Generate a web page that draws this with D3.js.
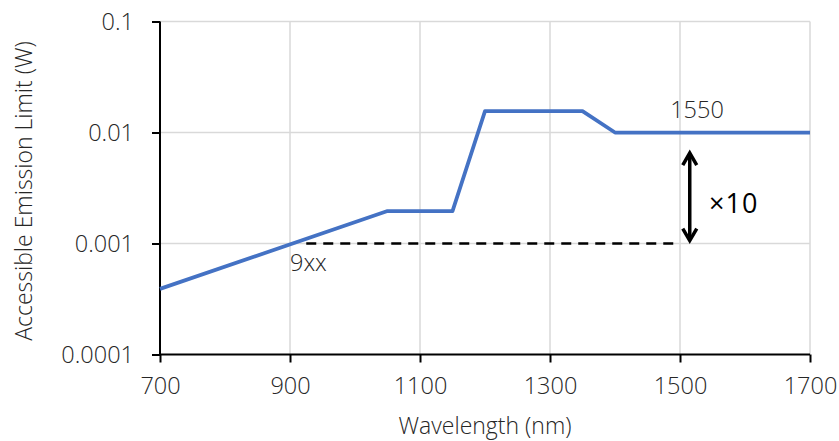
<!DOCTYPE html>
<html><head><meta charset="utf-8">
<script src="https://cdn.jsdelivr.net/npm/d3@7"></script>
<style>
body{margin:0;background:#fff;}
text{font-family:"Open Sans",sans-serif;fill:#262626;font-weight:300;}
</style></head>
<body><svg id="c" width="839" height="441"></svg>
<script>
const wavelengths = [700, 1050, 1150, 1200, 1350, 1400, 1700];
const aelValues   = [0.00039, 0.00196, 0.00196, 0.0156, 0.0156, 0.01, 0.01];
const xTicks = [700, 900, 1100, 1300, 1500, 1700];
const yTicks = [0.0001, 0.001, 0.01, 0.1];
const yTickLabels = ["0.0001", "0.001", "0.01", "0.1"];
const refLine = {from: 925, to: 1490, value: 0.001};
const arrow = {x: 1515, top: 0.0068, bottom: 0.00102};

const svg = d3.select("#c");
const x = d3.scaleLinear().domain([700, 1700]).range([160, 810]);
const y = d3.scaleLog().domain([0.0001, 0.1]).range([354.5, 21.5]);

// grid
svg.append("g").selectAll("line.v").data(xTicks.slice(1)).join("line")
  .attr("x1", d => x(d)).attr("x2", d => x(d)).attr("y1", y(0.1)).attr("y2", y(0.0001))
  .attr("stroke", "#d9d9d9").attr("stroke-width", 1.5);
svg.append("g").selectAll("line.h").data(yTicks.slice(1)).join("line")
  .attr("x1", x(700)).attr("x2", x(1700)).attr("y1", d => y(d)).attr("y2", d => y(d))
  .attr("stroke", "#d9d9d9").attr("stroke-width", 1.5);

// axes
const xAxis = d3.axisBottom(x).tickValues(xTicks).tickSize(8).tickPadding(15).tickFormat(d3.format("d"));
const gx = svg.append("g").attr("transform", `translate(0,${y(0.0001)})`).call(xAxis);
gx.select(".domain").attr("stroke", "#000").attr("stroke-width", 2).attr("d", `M${x(700)},0H${x(1700)}`);
gx.selectAll(".tick line").attr("stroke", "#000").attr("stroke-width", 2);
gx.selectAll(".tick text").attr("font-size", 23.5).attr("font-family", "Open Sans").attr("font-weight", 300).attr("fill", "#262626");

const yAxis = d3.axisLeft(y).tickValues(yTicks).tickSize(8).tickPadding(18).tickFormat((d, i) => yTickLabels[i]);
const gy = svg.append("g").attr("transform", `translate(${x(700)},0)`).call(yAxis);
gy.select(".domain").attr("stroke", "#000").attr("stroke-width", 2).attr("d", `M0,${y(0.1)}V${y(0.0001)}`);
gy.selectAll(".tick line").attr("stroke", "#000").attr("stroke-width", 2);
gy.selectAll(".tick text").attr("font-size", 23.5).attr("font-family", "Open Sans").attr("font-weight", 300).attr("fill", "#262626");

// dashed reference
svg.append("line").attr("x1", x(refLine.from)).attr("x2", x(refLine.to))
  .attr("y1", y(refLine.value)).attr("y2", y(refLine.value))
  .attr("stroke", "#000").attr("stroke-width", 2.5).attr("stroke-dasharray", "10,7");

// data line
const data = wavelengths.map((w, i) => [w, aelValues[i]]);
svg.append("path").datum(data)
  .attr("d", d3.line().x(d => x(d[0])).y(d => y(d[1])))
  .attr("fill", "none").attr("stroke", "#4472C4").attr("stroke-width", 3.75).attr("stroke-linejoin", "round");

// arrow
const ax = x(arrow.x), at = y(arrow.top), ab = y(arrow.bottom);
svg.append("line").attr("x1", ax).attr("x2", ax).attr("y1", at + 3).attr("y2", ab - 3)
  .attr("stroke", "#000").attr("stroke-width", 3.5);
svg.append("path").attr("d", `M${ax-7},${at+14}L${ax},${at+2}L${ax+7},${at+14}`)
  .attr("fill", "none").attr("stroke", "#000").attr("stroke-width", 3.5).attr("stroke-linejoin", "miter");
svg.append("path").attr("d", `M${ax-7},${ab-14}L${ax},${ab-2}L${ax+7},${ab-14}`)
  .attr("fill", "none").attr("stroke", "#000").attr("stroke-width", 3.5).attr("stroke-linejoin", "miter");

// labels
svg.append("text").attr("x", 709).attr("y", 213).attr("font-size", 27).attr("letter-spacing", 1).style("fill", "#000").style("font-weight", 400).text("×10");
svg.append("text").attr("x", 697).attr("y", 118).attr("text-anchor", "middle").attr("font-size", 23.5).text("1550");
svg.append("text").attr("x", 290).attr("y", 271).attr("font-size", 23.5).text("9xx");

// axis titles
svg.append("text").attr("x", 485).attr("y", 434).attr("text-anchor", "middle").attr("font-size", 23).text("Wavelength (nm)");
svg.append("text").attr("transform", "translate(32,191) rotate(-90)").attr("text-anchor", "middle").attr("font-size", 23).text("Accessible Emission Limit (W)");
</script></body></html>
